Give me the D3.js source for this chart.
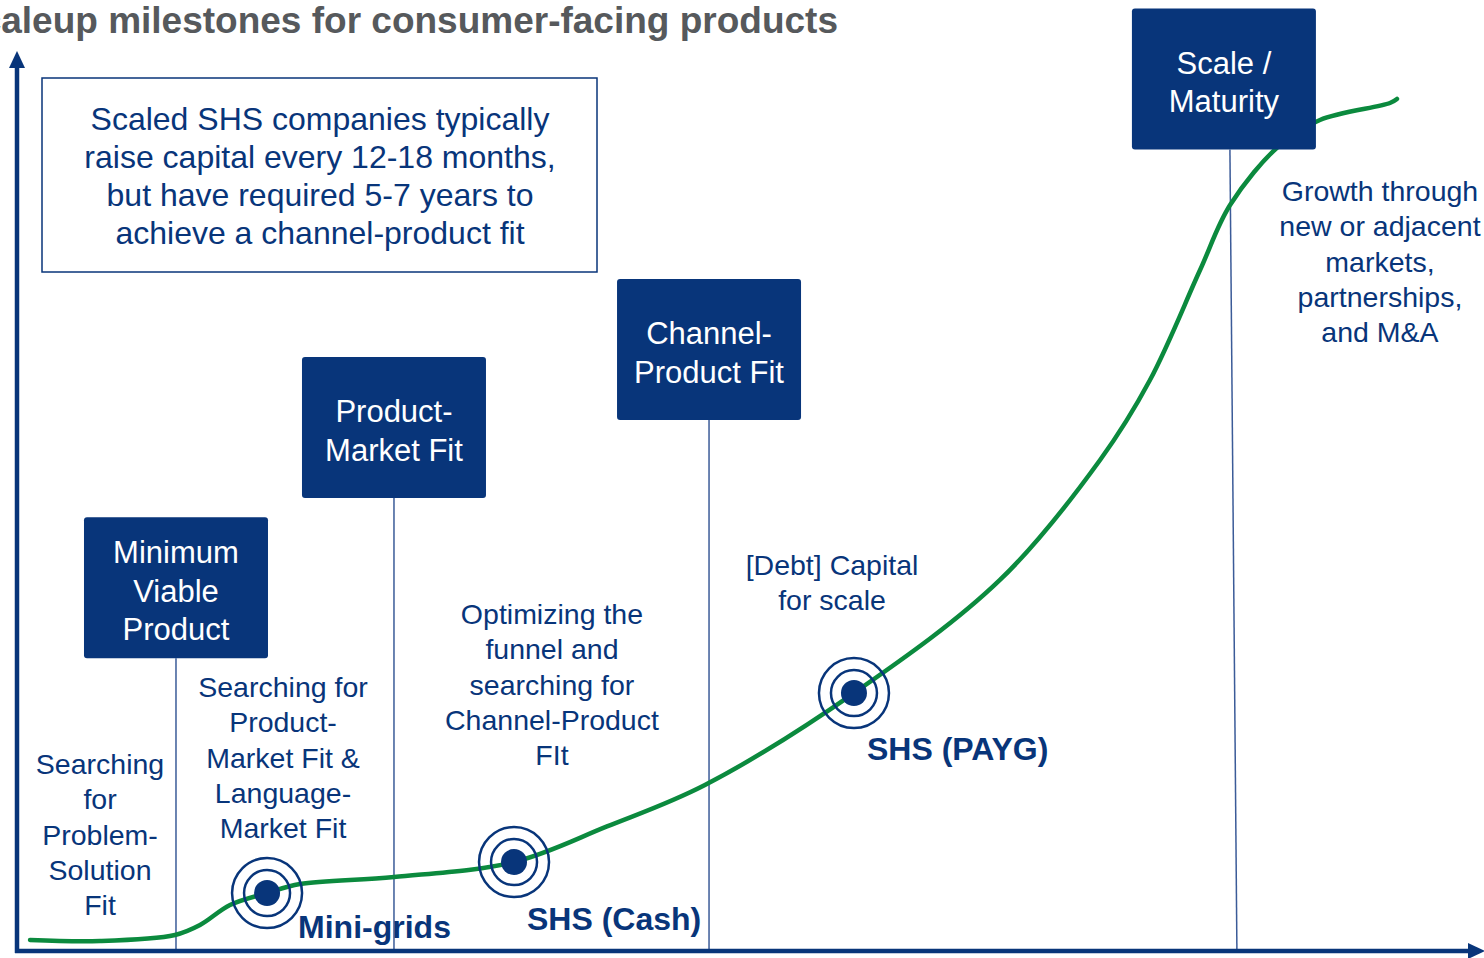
<!DOCTYPE html>
<html>
<head>
<meta charset="utf-8">
<script src="https://cdn.jsdelivr.net/npm/d3@7"></script>
<style>
  body { margin: 0; background: #fff; }
  svg { display: block; font-family: "Liberation Sans", Arial, sans-serif; }
</style>
</head>
<body>
<div id="chart"></div>
<script>
// growth curve, in abstract units (time 0-100, growth 0-100)
const curveX = [0.89, 5.67, 10.79, 12.5, 14.55, 17.08, 19.33, 25.75, 33.95, 40.3, 46.99, 57.17, 67.14, 73.98, 77.39, 80.81, 82.86, 86.27, 89.0, 93.78, 94.26];
const curveY = [1.23, 1.12, 1.79, 2.9, 5.13, 6.47, 7.48, 8.26, 9.93, 13.9, 18.53, 28.79, 41.41, 54.8, 63.73, 76.0, 83.26, 89.96, 92.75, 94.64, 95.09];

// milestones (boxes), when they happen and at what level the box sits
const milestoneNames = ["Minimum\nViable\nProduct", "Product-\nMarket Fit", "Channel-\nProduct Fit", "Scale /\nMaturity"];
const milestoneX = [10.86, 25.75, 47.27, 82.44];
const milestoneLevel = [48.4, 66.3, 75.0, 105.2];

// stage descriptions between milestones
const stageNames = [
  "Searching\nfor\nProblem-\nSolution\nFit",
  "Searching for\nProduct-\nMarket Fit &\nLanguage-\nMarket Fit",
  "Optimizing the\nfunnel and\nsearching for\nChannel-Product\nFIt",
  "[Debt] Capital\nfor scale",
  "Growth through\nnew or adjacent\nmarkets,\npartnerships,\nand M&A"
];
const stageX = [5.67, 18.17, 36.54, 55.67, 93.1];
const stageY = [19.75, 28.35, 36.5, 41.96, 83.71];

// business models placed on the curve
const modelNames = ["Mini-grids", "SHS (Cash)", "SHS (PAYG)"];
const modelX = [17.08, 33.95, 57.17];
const modelY = [6.47, 9.93, 28.79];

const note = ["Scaled SHS companies typically", "raise capital every 12-18 months,", "but have required 5-7 years to", "achieve a channel-product fit"];

const width = 1484, height = 958;
const navy = "#08357a", green = "#0b8a3e";

const x = d3.scaleLinear().domain([0, 100]).range([17, 1481]);
const y = d3.scaleLinear().domain([0, 100]).range([951, 55]);

const svg = d3.select("#chart").append("svg")
  .attr("width", width).attr("height", height);

// title (cut off at the left as in the slide)
svg.append("text")
  .attr("x", 838).attr("y", 33)
  .attr("text-anchor", "end")
  .style("font-size", "37px").style("font-weight", "bold")
  .style("fill", "#56595c")
  .text("Scaleup milestones for consumer-facing products");

// note box
svg.append("rect")
  .attr("x", 42).attr("y", 78).attr("width", 555).attr("height", 194)
  .style("fill", "none").style("stroke", navy).style("stroke-width", 1.5);
svg.append("g").selectAll("text").data(note).join("text")
  .attr("x", 320).attr("y", (d, i) => 130 + i * 38)
  .attr("text-anchor", "middle")
  .style("font-size", "32px").style("fill", navy)
  .text(d => d);

// milestone guide lines
const ms = milestoneNames.map((n, i) => ({ name: n, x: milestoneX[i], level: milestoneLevel[i] }));
const last = ms.length - 1;
svg.append("g").selectAll("line").data(ms).join("line")
  .attr("x1", (d, i) => x(d.x) + (i === last ? 6 : 0))
  .attr("x2", (d, i) => x(d.x) + (i === last ? 13 : 0))
  .attr("y1", d => y(d.level) + 141)
  .attr("y2", y(0))
  .style("stroke", "#3b5b98").style("stroke-width", 1.5);

// axes
svg.append("line")
  .attr("x1", x(0)).attr("x2", x(0)).attr("y1", y(0) + 2).attr("y2", y(100) + 12)
  .style("stroke", navy).style("stroke-width", 4.5);
svg.append("path")
  .attr("d", `M${x(0)},${y(100) - 4} L${x(0) - 8},${y(100) + 13} L${x(0) + 8},${y(100) + 13} Z`)
  .style("fill", navy);
svg.append("line")
  .attr("x1", x(0) - 2).attr("x2", x(100) - 12).attr("y1", y(0)).attr("y2", y(0))
  .style("stroke", navy).style("stroke-width", 4.5);
svg.append("path")
  .attr("d", `M${x(100) + 4},${y(0)} L${x(100) - 13},${y(0) - 8} L${x(100) - 13},${y(0) + 8} Z`)
  .style("fill", navy);

// growth curve
const pts = curveX.map((v, i) => [v, curveY[i]]);
svg.append("path")
  .datum(pts)
  .attr("d", d3.line().x(d => x(d[0])).y(d => y(d[1])).curve(d3.curveCatmullRom.alpha(0.5)))
  .style("fill", "none").style("stroke", green).style("stroke-width", 4.5)
  .style("stroke-linecap", "round");

// milestone boxes
const box = svg.append("g").selectAll("g").data(ms).join("g")
  .attr("transform", d => `translate(${x(d.x) - 92},${y(d.level)})`);
box.append("rect")
  .attr("width", 184).attr("height", 141).attr("rx", 3)
  .style("fill", navy);
box.each(function (d) {
  const lines = d.name.split("\n");
  d3.select(this).selectAll("text").data(lines).join("text")
    .attr("x", 92)
    .attr("y", (l, i) => 70.5 - (lines.length - 1) / 2 * 38.5 + 14 + i * 38.5)
    .attr("text-anchor", "middle")
    .style("font-size", "31px").style("fill", "#fff")
    .text(l => l);
});

// stage texts
stageNames.forEach((s, k) => {
  svg.append("g").selectAll("text").data(s.split("\n")).join("text")
    .attr("x", x(stageX[k]))
    .attr("y", (l, i) => y(stageY[k]) + i * 35.3)
    .attr("text-anchor", "middle")
    .style("font-size", "28.5px").style("fill", navy)
    .text(l => l);
});

// model markers
const labelOffset = [[31, 45], [13, 68], [13, 67]];
const mk = svg.append("g").selectAll("g").data(modelNames).join("g")
  .attr("transform", (d, i) => `translate(${x(modelX[i])},${y(modelY[i])})`);
mk.append("circle").attr("r", 35)
  .style("fill", "none").style("stroke", navy).style("stroke-width", 2.5);
mk.append("circle").attr("r", 23)
  .style("fill", "none").style("stroke", navy).style("stroke-width", 2.5);
mk.append("circle").attr("r", 13).style("fill", navy);
mk.append("text")
  .attr("x", (d, i) => labelOffset[i][0]).attr("y", (d, i) => labelOffset[i][1])
  .style("font-size", "32px").style("font-weight", "bold").style("fill", navy)
  .text(d => d);
</script>
</body>
</html>
